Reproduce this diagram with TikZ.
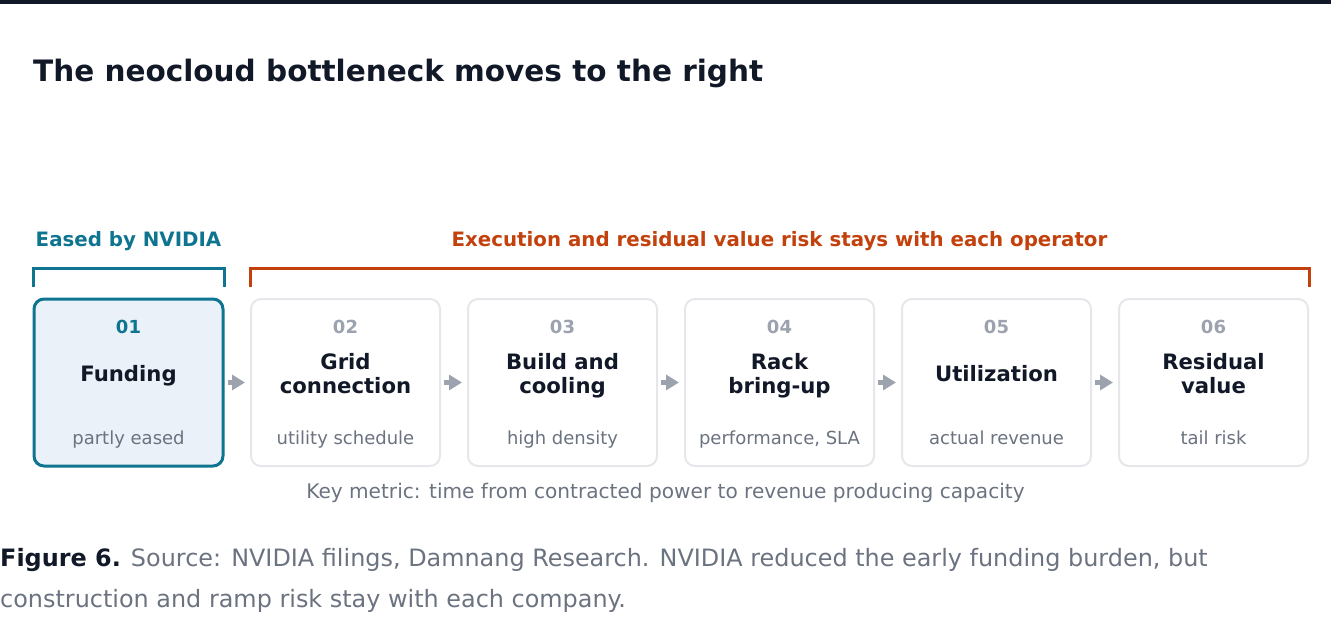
\documentclass[tikz,border=0pt]{standalone}
\usepackage{fontspec}
\setmainfont{DejaVu Sans}
\usetikzlibrary{arrows.meta}
\definecolor{ink}{HTML}{111827}
\definecolor{nvteal}{HTML}{0E7490}
\definecolor{rust}{HTML}{C2410C}
\definecolor{muted}{HTML}{6B7280}
\definecolor{faint}{HTML}{9CA3AF}
\definecolor{edgegray}{HTML}{E5E7EB}
\definecolor{paleblue}{HTML}{EAF1F8}

\begin{document}
\begin{tikzpicture}[x=1pt,y=-1pt,
    stage/.style={draw=edgegray, line width=2pt, rounded corners=10pt, fill=white,
                  minimum width=189pt, minimum height=167pt, inner sep=0pt},
    eased/.style={stage, draw=nvteal, line width=3pt, fill=paleblue},
    num/.style={anchor=base, inner sep=0pt, text=faint, font=\bfseries\fontsize{18}{20}\selectfont},
    head/.style={anchor=base, inner sep=0pt, text=ink, align=center, font=\bfseries\fontsize{21.2}{24}\selectfont},
    sub/.style={anchor=base, inner sep=0pt, text=muted, font=\fontsize{18}{20}\selectfont},
    grouplbl/.style={anchor=base, inner sep=0pt, font=\bfseries\fontsize{19.8}{22}\selectfont},
    flow/.style={-{Triangle[length=13pt,width=15pt]}, faint, line width=5pt, shorten <=3pt, shorten >=5pt}]
\useasboundingbox (0,0) rectangle (1331,629);
% top rule
\fill[ink] (0,0) rectangle (1331,3.5);
% title
\node[anchor=base west, inner sep=0pt, text=ink, font=\bfseries\fontsize{29.5}{34}\selectfont] (title) at (33,81) {The neocloud bottleneck moves to the right};

% group labels
\node[grouplbl, text=nvteal] (eased lbl) at (128.5,246) {Eased by NVIDIA};
\node[grouplbl, text=rust] (risk lbl) at (779.5,246) {Execution and residual value risk stays with each operator};
% brackets
\draw[nvteal, line width=3pt] (33,287) -- (33,268.5) -- (224,268.5) -- (224,287);
\draw[rust, line width=3pt] (250,287) -- (250,268.5) -- (1309,268.5) -- (1309,287);

% stages
\node[eased] (s1) at (128.5,382.5) {};
\node[stage] (s2) at (345.5,382.5) {};
\node[stage] (s3) at (562.5,382.5) {};
\node[stage] (s4) at (779.5,382.5) {};
\node[stage] (s5) at (996.5,382.5) {};
\node[stage] (s6) at (1213.5,382.5) {};

% stage texts (base of multi-line heads = last line)
\node[num, text=nvteal] (n1) at (128.5,333) {01};
\node[head] (h1) at (128.5,381) {Funding};
\node[sub] (t1) at (128.5,444) {partly eased};

\node[num] (n2) at (345.5,333) {02};
\node[head] (h2) at (345.5,393) {Grid\\connection};
\node[sub] (t2) at (345.5,444) {utility schedule};

\node[num] (n3) at (562.5,333) {03};
\node[head] (h3) at (562.5,393) {Build and\\cooling};
\node[sub] (t3) at (562.5,444) {high density};

\node[num] (n4) at (779.5,333) {04};
\node[head] (h4) at (779.5,393) {Rack\\bring-up};
\node[sub] (t4) at (779.5,444) {performance, SLA};

\node[num] (n5) at (996.5,333) {05};
\node[head] (h5) at (996.5,381) {Utilization};
\node[sub] (t5) at (996.5,444) {actual revenue};

\node[num] (n6) at (1213.5,333) {06};
\node[head] (h6) at (1213.5,393) {Residual\\value};
\node[sub] (t6) at (1213.5,444) {tail risk};

% arrows
\draw[flow] (s1) -- (s2);
\draw[flow] (s2) -- (s3);
\draw[flow] (s3) -- (s4);
\draw[flow] (s4) -- (s5);
\draw[flow] (s5) -- (s6);

% key metric
\node[anchor=base, inner sep=0pt, text=muted, font=\fontsize{20.1}{24}\selectfont] (metric) at (665.5,498) {Key metric: time from contracted power to revenue producing capacity};

% caption
\node[anchor=base west, inner sep=0pt, align=left, font=\fontsize{23.9}{41}\selectfont, text=muted] (caption) at (0,607)
  {\textcolor{ink}{\bfseries Figure 6.} Source: NVIDIA filings, Damnang Research. NVIDIA reduced the early funding burden, but\\construction and ramp risk stay with each company.};
\end{tikzpicture}
\end{document}
